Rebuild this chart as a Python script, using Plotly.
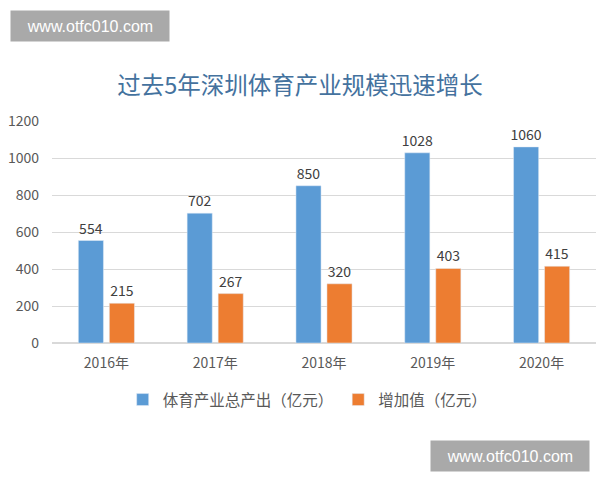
import plotly.graph_objects as go

categories = ["2016年", "2017年", "2018年", "2019年", "2020年"]
output_values = [554, 702, 850, 1028, 1060]
added_values = [215, 267, 320, 403, 415]
series_names = ["体育产业总产出（亿元）", "增加值（亿元）"]
title_text = "过去5年深圳体育产业规模迅速增长"
watermark = "www.otfc010.com"

FONT = "Noto Sans CJK SC, Open Sans, sans-serif"

fig = go.Figure()
fig.add_trace(go.Bar(
    x=categories, y=output_values, name=series_names[0],
    marker_color="#5B9BD5", text=output_values, textposition="outside",
    textfont=dict(size=14, color="#404040", family=FONT), cliponaxis=False,
    constraintext="none",
))
fig.add_trace(go.Bar(
    x=categories, y=added_values, name=series_names[1],
    marker_color="#ED7D31", text=added_values, textposition="outside",
    textfont=dict(size=14, color="#404040", family=FONT), cliponaxis=False,
    constraintext="none",
))

fig.update_layout(
    width=600, height=480,
    margin=dict(l=52, r=4, t=121, b=137, autoexpand=False),
    paper_bgcolor="white", plot_bgcolor="white",
    font=dict(family=FONT, color="#595959", size=14),
    title=dict(text=title_text, x=0.5, xanchor="center", y=1 - 86 / 480, yanchor="middle",
               font=dict(size=23.5, color="#44729E", family=FONT)),
    barmode="group", bargap=0.43, bargroupgap=0.19,
    legend=dict(orientation="h", x=0.47, xanchor="center", y=(343 - 400) / 222, yanchor="middle",
                font=dict(size=15.5, color="#595959"), itemwidth=30, tracegroupgap=0),
    showlegend=True,
)
fig.update_yaxes(range=[0, 1200], dtick=200, showgrid=True, gridcolor="#D9D9D9", gridwidth=1,
                 zeroline=True, zerolinecolor="#D9D9D9", ticks="", tickfont=dict(size=14, color="#595959"),
                 ticklabelstandoff=12, automargin=False)
fig.update_xaxes(showline=True, linecolor="#D9D9D9", ticks="", tickfont=dict(size=14, color="#595959"),
                 automargin=False, ticklabelstandoff=7)

fig.add_annotation(x=(10 - 52) / 544, y=(343 - 10) / 222, xref="paper", yref="paper",
                   xanchor="left", yanchor="top", text=watermark, showarrow=False,
                   bgcolor="#A9A9A9", width=154, height=26, borderpad=2,
                   font=dict(size=16, color="white", family="Liberation Sans, Arial, sans-serif"))
fig.add_annotation(x=(430 - 52) / 544, y=(343 - 440) / 222, xref="paper", yref="paper",
                   xanchor="left", yanchor="top", text=watermark, showarrow=False,
                   bgcolor="#A9A9A9", width=154, height=26, borderpad=2,
                   font=dict(size=16, color="white", family="Liberation Sans, Arial, sans-serif"))

fig.write_html("out.html", post_script="document.body.style.margin='0';",
               config={"displayModeBar": False})
